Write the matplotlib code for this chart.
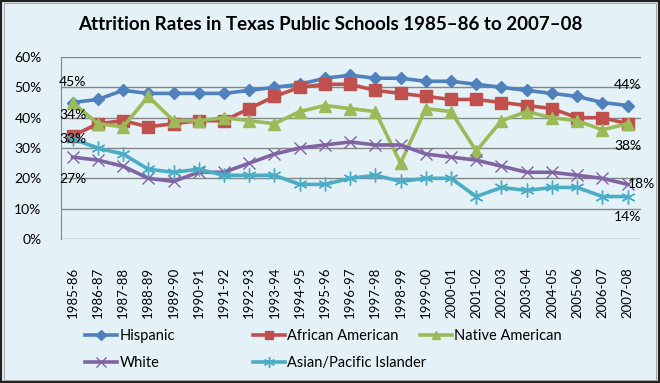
import matplotlib
matplotlib.use("Agg")
import matplotlib.pyplot as plt
from matplotlib.patches import Rectangle

plt.rcParams['font.family'] = ['Lato', 'DejaVu Sans']

# data
years = ['1985-86', '1986-87', '1987-88', '1988-89', '1989-90', '1990-91', '1991-92',
         '1992-93', '1993-94', '1994-95', '1995-96', '1996-97', '1997-98', '1998-99',
         '1999-00', '2000-01', '2001-02', '2002-03', '2003-04', '2004-05', '2005-06',
         '2006-07', '2007-08']
hispanic = [45, 46, 49, 48, 48, 48, 48, 49, 50, 51, 53, 54, 53, 53, 52, 52, 51, 50, 49, 48, 47, 45, 44]
african_american = [34, 38, 39, 37, 38, 39, 39, 43, 47, 50, 51, 51, 49, 48, 47, 46, 46, 45, 44, 43, 40, 40, 38]
native_american = [45, 38, 37, 47, 39, 39, 40, 39, 38, 42, 44, 43, 42, 25, 43, 42, 29, 39, 42, 40, 39, 36, 38]
white = [27, 26, 24, 20, 19, 22, 22, 25, 28, 30, 31, 32, 31, 31, 28, 27, 26, 24, 22, 22, 21, 20, 18]
asian = [33, 30, 28, 23, 22, 23, 21, 21, 21, 18, 18, 20, 21, 19, 20, 20, 14, 17, 16, 17, 17, 14, 14]
yticks = [0, 10, 20, 30, 40, 50, 60]

bg = '#E4F1F7'
fig = plt.figure(figsize=(6.6, 3.83), dpi=100)
fig.patch.set_facecolor(bg)
fig.patches.append(Rectangle((0.002, 0.003), 0.996, 0.994, transform=fig.transFigure,
                             fill=False, edgecolor='#222222', linewidth=1.6))
fig.patches.append(Rectangle((0.006, 0.009), 0.988, 0.982, transform=fig.transFigure,
                             fill=False, edgecolor='#9a9a9a', linewidth=0.6))

ax = fig.add_axes([61 / 660, 1 - 239 / 383, 580 / 660, 182 / 383])
ax.set_facecolor(bg)
x = list(range(len(years)))

series = [
    ('Hispanic', hispanic, '#4F81BD', 'D', 6, 1),
    ('African American', african_american, '#C0504D', 's', 8, 1),
    ('Native American', native_american, '#9BBB59', '^', 8, 1),
    ('White', white, '#8064A2', 'x', 9, 1),
    ('Asian/Pacific Islander', asian, '#4BACC6', (6, 2, 0), 10, 1),
]
lines = {}
for name, vals, col, mk, ms, mew in series:
    ln, = ax.plot(x, vals, color=col, lw=2.6, marker=mk, markersize=ms,
                  markeredgewidth=mew, markeredgecolor=col, label=name, zorder=3)
    lines[name] = ln

ax.set_xlim(-0.46, 22.53)
ax.set_ylim(0, 60)
ax.set_yticks(yticks)
ax.set_yticklabels([f'{v}%' for v in yticks], fontsize=10)
ax.set_xticks(x)
ax.set_xticklabels(years, rotation=90, fontsize=9.5)
ax.tick_params(length=0)
ax.tick_params(axis='y', pad=14)
ax.tick_params(axis='x', pad=20)
ax.grid(axis='y', color='#868686', lw=1)
ax.set_axisbelow(True)
for s in ['top', 'right', 'bottom']:
    ax.spines[s].set_visible(False)
ax.spines['left'].set_color('#868686')

# data labels
def lab(i, v, dx, dy):
    ax.annotate(f'{v}%', (i, v), xytext=(dx, dy), textcoords='offset points',
                ha='center', va='center', fontsize=10, zorder=5)

lab(0, hispanic[0], 0, 15)
lab(22, hispanic[22], 0, 15)
lab(0, african_american[0], 0, 15)
lab(22, native_american[22], 0, -16)
lab(0, white[0], 0, -16)
lab(22, white[22], 10, 0)
lab(0, asian[0], 0, 0)
lab(22, asian[22], 0, -15)

fig.text(0.5, 1 - 25 / 383, 'Attrition Rates in Texas Public Schools 1985\u201386 to 2007\u201308',
         ha='center', va='center', fontsize=13.5, fontweight='bold')

# legend: one column at a time, Excel-style placement
cols = [(['Hispanic', 'White'], 72), (['African American', 'Asian/Pacific Islander'], 240),
        (['Native American'], 407)]
for names, px in cols:
    fig.legend([lines[n] for n in names], names, loc='upper left',
               bbox_to_anchor=(px / 660, 1 - 316 / 383), frameon=False, fontsize=10.5,
               handlelength=2.2, handletextpad=0.15, labelspacing=0.9, markerscale=0.8)

fig.savefig('out.png', dpi=100, facecolor=bg)
